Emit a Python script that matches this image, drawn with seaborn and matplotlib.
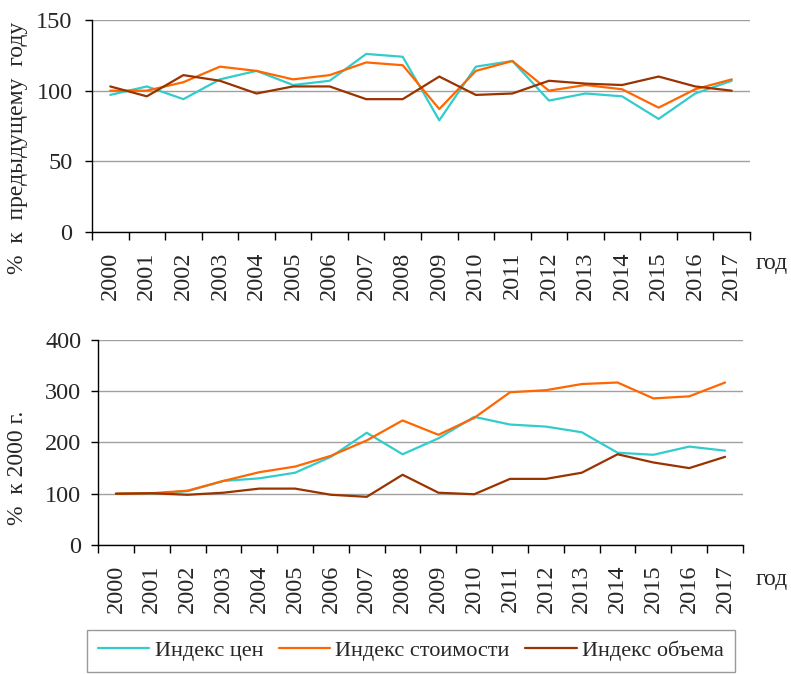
import numpy as np
import pandas as pd
import matplotlib
matplotlib.use('Agg')
import matplotlib.pyplot as plt
import seaborn as sns

# Data
years = [str(y) for y in range(2000, 2018)]
series_names = ['Индекс цен', 'Индекс стоимости', 'Индекс объема']

# % к предыдущему году
price_prev = [97, 103, 94, 108, 114, 104, 107, 126, 124, 79, 117, 121, 93, 98, 96, 80, 98, 107]
value_prev = [100, 100, 106, 117, 114, 108, 111, 120, 118, 87, 114, 121, 100, 104, 101, 88, 101, 108]
volume_prev = [103, 96, 111, 107, 98, 103, 103, 94, 94, 110, 97, 98, 107, 105, 104, 110, 103, 100]

# % к 2000 г.
price_base = [100, 100, 105, 125, 130, 141, 172, 219, 177, 208, 250, 235, 231, 220, 180, 176, 192, 184]
value_base = [100, 101, 106, 125, 142, 153, 174, 204, 243, 215, 248, 298, 302, 314, 317, 286, 290, 317]
volume_base = [100, 101, 98, 102, 110, 110, 98, 94, 137, 102, 99, 129, 129, 141, 177, 161, 150, 172]

colors = ['#33CCCC', '#FF6600', '#993300']

sns.set_theme(style='white')
plt.rcParams['font.family'] = ['Liberation Serif', 'DejaVu Serif']
plt.rcParams['font.size'] = 17


def long_frame(a, b, c):
    rows = []
    for name, vals in zip(series_names, [a, b, c]):
        for i, v in enumerate(vals):
            rows.append({'x': i, 'val': v, 'series': name})
    return pd.DataFrame(rows)


def style_axis(ax, ymax, ystep, ypad):
    ax.set_xlim(-0.5, len(years) - 0.5)
    ax.set_ylim(0, ymax)
    ax.set_yticks(np.arange(0, ymax + 1, ystep))
    ax.set_xticks(range(len(years)))
    ax.set_xticklabels(years, rotation=90)
    ax.set_xticks(np.arange(-0.5, len(years)), minor=True)
    ax.tick_params(axis='x', which='major', length=0, pad=14, labelsize=17.5)
    ax.tick_params(axis='x', which='minor', length=6, width=1, color='black', direction='out')
    ax.tick_params(axis='y', length=5, width=1, color='black', direction='out', pad=ypad, labelsize=17.5)
    ax.xaxis.set_ticks_position('bottom')
    ax.yaxis.set_ticks_position('left')
    ax.grid(axis='y', color='#A0A0A0', linewidth=1)
    ax.grid(axis='x', visible=False)
    for s in ['top', 'right']:
        ax.spines[s].set_visible(False)
    for s in ['left', 'bottom']:
        ax.spines[s].set_color('black')
        ax.spines[s].set_linewidth(1)
    ax.set_xlabel('')
    ax.set_ylabel('')
    ax.set_axisbelow(True)
    ax.set_facecolor('none')


fig = plt.figure(figsize=(7.91, 6.74), dpi=100)
ax1 = fig.add_axes([0.1163, 0.6558, 0.8319, 0.3145])
ax2 = fig.add_axes([0.1239, 0.1914, 0.8154, 0.3042])

df1 = long_frame(price_prev, value_prev, volume_prev)
df2 = long_frame(price_base, value_base, volume_base)

sns.lineplot(data=df1, x='x', y='val', hue='series', palette=colors, linewidth=1.6,
             ax=ax1, legend=False)
sns.lineplot(data=df2, x='x', y='val', hue='series', palette=colors, linewidth=1.6,
             ax=ax2, legend=False)

style_axis(ax1, 150, 50, 9)
style_axis(ax2, 400, 100, 7)

fig.text(18 / 791, 1 - 148 / 674, '%  к  предыдущему  году', rotation=90, ha='center', va='center', fontsize=17)
fig.text(18 / 791, 1 - 468 / 674, '%  к 2000 г.', rotation=90, ha='center', va='center', fontsize=17)
fig.text(756 / 791, 1 - 264 / 674, 'год', ha='left', va='center', fontsize=17)
fig.text(756 / 791, 1 - 580 / 674, 'год', ha='left', va='center', fontsize=17)

handles = [plt.Line2D([], [], color=c, linewidth=1.6) for c in colors]
leg = fig.legend(handles, series_names, loc='center', bbox_to_anchor=(411 / 791, 1 - 651 / 674),
                 ncol=3, frameon=True, fancybox=False, edgecolor='#808080', fontsize=16,
                 handlelength=2.3, handletextpad=0.25, columnspacing=0.7, borderpad=0.5,
                 borderaxespad=0)
leg.get_frame().set_linewidth(1)

fig.savefig('out.png', dpi=100)
